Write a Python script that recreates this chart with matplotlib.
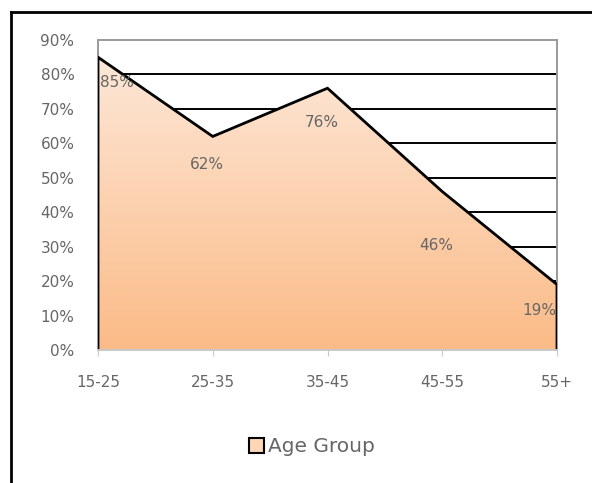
import numpy as np
import matplotlib.pyplot as plt
from matplotlib.patches import Polygon, Patch
from matplotlib.colors import LinearSegmentedColormap
from matplotlib.lines import Line2D

categories = ['15-25', '25-35', '35-45', '45-55', '55+']
values = [85, 62, 76, 46, 19]
series_name = 'Age Group'

plt.rcParams['font.family'] = ['DejaVu Sans']
text_gray = '#666666'

fig = plt.figure(figsize=(5.92, 4.83), dpi=100)
ax = fig.add_axes([98 / 592, 1 - 350 / 483, (557 - 98) / 592, (350 - 40) / 483])

x = np.arange(len(categories))
ax.set_xlim(0, len(categories) - 1)
ax.set_ylim(0, 90)

# gridlines behind the area
for yv in range(10, 90, 10):
    ax.axhline(yv, color='black', lw=1.4, zorder=1)

# gradient fill clipped to the area polygon
cmap = LinearSegmentedColormap.from_list('peach', ['#fbbb87', '#fde7d7'])
grad = np.linspace(0, 1, 256).reshape(-1, 1)
img = ax.imshow(grad, cmap=cmap, origin='lower', aspect='auto',
                extent=[0, len(categories) - 1, 0, max(values)], zorder=2)
verts = [(0, 0)] + list(zip(x, values)) + [(x[-1], 0)]
poly = Polygon(verts, closed=True, facecolor='none', edgecolor='none', transform=ax.transData)
ax.add_patch(poly)
img.set_clip_path(poly)

outline_x = [0] + list(x) + [x[-1]]
outline_y = [0] + values + [0]
ax.plot(outline_x, outline_y, color='black', lw=2, zorder=3, solid_joinstyle='miter')

for side in ['top', 'right', 'left']:
    ax.spines[side].set_color('#9a9a9a')
    ax.spines[side].set_linewidth(1.4)
ax.spines['bottom'].set_color('#c8c8c8')
ax.spines['bottom'].set_linewidth(1.4)
ax.spines['bottom'].set_zorder(4)

ax.set_yticks(range(0, 100, 10))
ax.set_yticklabels([f'{v}%' for v in range(0, 100, 10)])
ax.set_xticks(x)
ax.set_xticklabels(categories)
ax.tick_params(axis='y', length=0, pad=17, labelsize=11, labelcolor=text_gray)
ax.tick_params(axis='x', length=4, color='#c8c8c8', pad=14, labelsize=11, labelcolor=text_gray)

# data labels
offsets = [(19, -25), (-6, -28), (-6, -34), (-6, -54), (-18, -26)]
for xi, v, (dx, dy) in zip(x, values, offsets):
    ax.annotate(f'{v}%', (xi, v), xytext=(dx, dy), textcoords='offset pixels',
                ha='center', va='center', fontsize=11, color=text_gray, zorder=5)

handle = Patch(facecolor='#fdd6b8', edgecolor='black', linewidth=1.5)
fig.legend([handle], [series_name], loc='center', bbox_to_anchor=(312 / 592, 1 - 447 / 483),
           frameon=False, fontsize=14.5, labelcolor=text_gray, handlelength=0.75, handleheight=0.75,
           handletextpad=0.2)

# outer chart border (left and top visible)
fig.add_artist(Line2D([11 / 592, 11 / 592], [0, 1 - 12 / 483], color='black', lw=2))
fig.add_artist(Line2D([11 / 592, 1], [1 - 12 / 483, 1 - 12 / 483], color='black', lw=2))

fig.savefig('out.png', dpi=100)
